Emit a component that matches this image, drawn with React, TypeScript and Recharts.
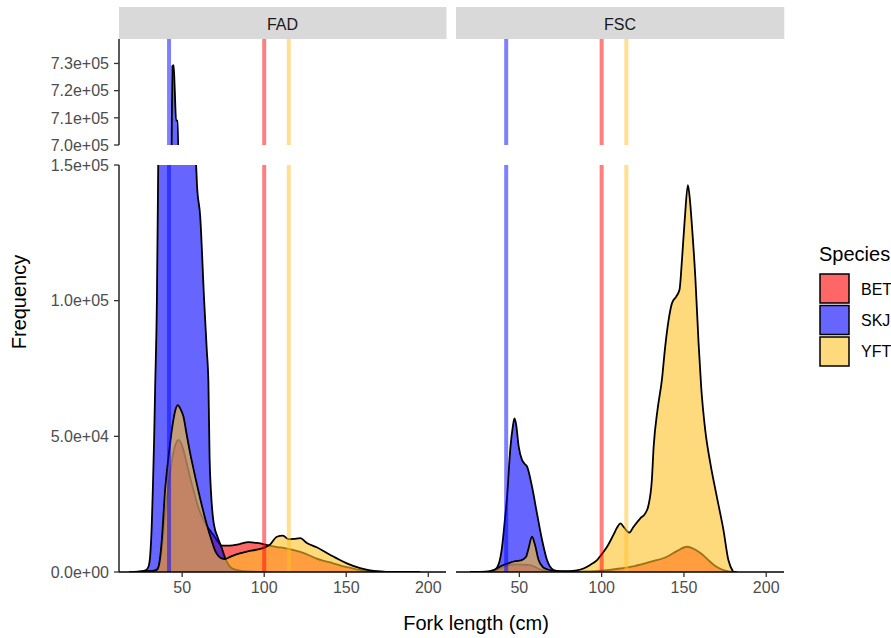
import React from "react";
import { ComposedChart, Area, XAxis, YAxis, ReferenceLine } from "recharts";

type Pt = [number, number];

const SPECIES = ["BET", "SKJ", "YFT"];
const FILLS: Record<string, string> = {
  BET: "#FF0000",
  SKJ: "#0000FF",
  YFT: "#FFC125",
};

// vertical reference lines (fork length, cm)
const REF_SPECIES = ["SKJ", "BET", "YFT"];
const REF_LENGTHS = [42, 100, 115];

const X_TICKS = [50, 100, 150, 200];
const LOW_TICKS = [0, 50000, 100000, 150000];
const HIGH_TICKS = [700000, 710000, 720000, 730000];

// [fork length cm, frequency]
const FAD_BET: Pt[] = [
  [18, 0], [25, 100], [30, 300], [33, 500], [35, 1200], [36.5, 4000], [37.6, 8500],
  [39.6, 21000], [41.7, 32000], [44.3, 43000], [46.5, 47800], [47.8, 48700], [50, 46500],
  [52, 42000], [55, 34500], [57, 30000], [60, 23500], [62, 20500], [65, 17000], [68, 14500],
  [70, 12800], [72, 11000], [74.2, 9700], [79, 9700], [85, 10300], [90.4, 11000],
  [95.5, 10700], [100, 10200], [104, 9600], [108, 9200], [112, 8900], [116, 8300],
  [122, 7400], [128, 6000], [132, 4900], [137, 4000], [142, 3200], [147, 2300],
  [152, 1600], [157, 900], [162, 500], [170, 150], [180, 30], [195, 0],
];

const FAD_SKJ: Pt[] = [
  [18, 0], [25, 200], [28, 700], [29.5, 2000], [30.5, 6000], [31.5, 17900], [32.1, 30200],
  [32.9, 48700], [33.5, 67100], [34.6, 100000], [35.4, 150000], [37, 250000], [39, 400000],
  [41, 550000], [43, 660000], [43.6, 700000], [44, 729000], [44.8, 729400], [45.5, 720000],
  [46.3, 709000], [47.3, 709000], [47.8, 690000], [49, 560000], [51, 400000], [53, 300000],
  [55, 230000], [57, 180000], [58.5, 150000], [59, 143000], [61, 131000], [63.4, 100000],
  [65, 81800], [66, 69700], [66.7, 42500], [67.5, 30200], [68.7, 20400], [70.1, 15500],
  [71.5, 13000], [74, 9000], [77, 4000], [80, 1500], [85, 500], [90, 200], [100, 0],
];

const FAD_YFT: Pt[] = [
  [18, 0], [25, 100], [30, 300], [33, 500], [35, 1000], [36.5, 5000], [37.6, 11800],
  [39.6, 30200], [41.7, 42500], [44.3, 54800], [46, 60000], [47.4, 61500], [49, 60000],
  [50.8, 57200], [52.8, 50500], [54.8, 44000], [56.9, 38000], [61, 27000], [65, 17500],
  [68, 11500], [70, 8000], [72, 6000], [74, 5000], [76, 4800], [79.3, 5600], [84, 6700],
  [89.4, 7500], [95, 8200], [99.6, 8900], [103.7, 10200], [107.7, 13000], [111.4, 13400],
  [114.8, 12100], [118, 12200], [122, 12500], [126, 10700], [132, 9100], [138.2, 7000],
  [145, 4800], [150.4, 3200], [158.5, 1400], [164.6, 550], [172, 150], [183, 0],
];

const FSC_BET: Pt[] = [
  [20, 0], [33, 100], [36, 600], [40, 1700], [44, 2600], [48, 2800], [52, 2700], [56, 2600],
  [59, 2000], [62, 1100], [66, 400], [72, 150], [80, 100], [90, 200], [100, 500],
  [110, 1200], [120, 2200], [130, 3800], [140, 5700], [146, 7800], [151.7, 9300],
  [155, 8800], [160, 7000], [165, 4300], [168, 2700], [172, 1200], [177, 250], [182, 0],
];

const FSC_SKJ: Pt[] = [
  [20, 0], [30, 0], [33, 100], [35, 600], [37.5, 3000], [39.5, 9300], [41, 18000],
  [42.5, 27700], [44.6, 46200], [46, 53500], [47, 56600], [48, 54500], [49.6, 46200],
  [51.6, 41300], [53, 40000], [54.7, 38800], [57.7, 31400], [60.7, 21600], [63.8, 11800],
  [66.8, 4400], [70.8, 700], [75, 150], [80, 0],
];

const FSC_YFT: Pt[] = [
  [20, 0], [30, 100], [35, 900], [40, 2500], [44, 3400], [47.5, 4000], [51, 4300],
  [54, 5500], [55.5, 8500], [57.7, 13000], [59.5, 10000], [61.7, 4400], [64, 2000],
  [66.8, 1000], [72, 350], [80, 300], [85, 600], [89, 1300], [93, 2600], [97.2, 4400],
  [100, 6500], [103.3, 9300], [107, 13500], [109.5, 16500], [111.5, 17900], [113.5, 16500],
  [116.8, 14500], [119.4, 16700], [123.5, 19800], [126.5, 21600], [128.5, 24700],
  [130.5, 33900], [131.6, 46200], [134, 60000], [136.6, 70800], [138.6, 83000],
  [140.7, 92900], [142.7, 99000], [145.3, 101500], [147.3, 104000], [148.8, 115000],
  [150.5, 130000], [152.4, 142600], [153.5, 138000], [154.9, 127300], [156.9, 108800],
  [158.9, 84300], [160.5, 68000], [163, 52000], [166, 40200], [170, 27700], [174, 15500],
  [177, 4400], [180, 0],
];

const X_DOMAIN = [11.5, 210.8];
const FONT = "'Liberation Sans', Arial, Helvetica, sans-serif";
const TICK_STYLE = { fill: "#4d4d4d", fontSize: 16, fontFamily: FONT };
const AXIS_LINE = { stroke: "#000", strokeWidth: 1.3 };
const TICK_LINE = { stroke: "#333", strokeWidth: 1.3 };
const PAD = 12; // room above/below the plot so edge tick labels are not clipped

function buildRows(series: Record<string, Pt[]>) {
  const map = new Map<number, Record<string, number>>();
  for (const [name, pts] of Object.entries(series)) {
    for (const [cm, v] of pts) {
      const row = map.get(cm) || { cm };
      row[name] = v;
      map.set(cm, row);
    }
  }
  return Array.from(map.values()).sort((a, b) => a.cm - b.cm);
}

function sci(v: number) {
  const [m, e] = v.toExponential(1).split("e");
  return `${m}e${e[0]}${e.slice(1).padStart(2, "0")}`;
}

const fadRows = buildRows({ BET: FAD_BET, SKJ: FAD_SKJ, YFT: FAD_YFT });
const fscRows = buildRows({ BET: FSC_BET, SKJ: FSC_SKJ, YFT: FSC_YFT });

interface PanelProps {
  rows: Record<string, number>[];
  left: number;
  top: number; // top of plot area
  width: number;
  plotHeight: number;
  domain: number[];
  ticks: number[];
  showY: boolean;
  showX: boolean;
}

function Panel({ rows, left, top, width, plotHeight, domain, ticks, showY, showX }: PanelProps) {
  const xH = showX ? 30 : 0;
  return (
    <div style={{ position: "absolute", left, top: top - PAD }}>
      <ComposedChart
        width={width}
        height={plotHeight + xH + PAD * 2}
        data={rows}
        margin={{ top: PAD, right: 0, bottom: PAD, left: 0 }}
      >
        <XAxis
          type="number"
          dataKey="cm"
          domain={X_DOMAIN}
          ticks={X_TICKS}
          interval={0}
          allowDataOverflow
          hide={!showX}
          height={30}
          tickSize={5}
          tickMargin={5}
          tick={TICK_STYLE}
          axisLine={AXIS_LINE}
          tickLine={TICK_LINE}
        />
        <YAxis
          type="number"
          domain={domain}
          ticks={ticks}
          interval={0}
          allowDataOverflow
          hide={!showY}
          width={119}
          tickSize={5}
          tickMargin={5}
          tickFormatter={sci}
          tick={TICK_STYLE}
          axisLine={AXIS_LINE}
          tickLine={TICK_LINE}
        />
        {SPECIES.map((s) => (
          <Area
            key={s}
            type="monotone"
            dataKey={s}
            connectNulls
            fill={FILLS[s]}
            fillOpacity={0.6}
            stroke="#000"
            strokeWidth={1.8}
            dot={false}
            activeDot={false}
            isAnimationActive={false}
          />
        ))}
        {REF_SPECIES.map((s, i) => (
          <ReferenceLine
            key={s}
            x={REF_LENGTHS[i]}
            stroke={FILLS[s]}
            strokeOpacity={0.5}
            strokeWidth={4}
          />
        ))}
      </ComposedChart>
    </div>
  );
}

export default function App() {
  return (
    <div
      style={{
        position: "absolute",
        left: 0,
        top: 0,
        width: 891,
        height: 638,
        background: "#fff",
        fontFamily: FONT,
      }}
    >
      <svg width={891} height={638} style={{ position: "absolute", left: 0, top: 0 }}>
        {/* facet strips */}
        <rect x={119} y={7} width={327.5} height={32} fill="#d9d9d9" />
        <rect x={456} y={7} width={328.3} height={32} fill="#d9d9d9" />
        <text x={282.5} y={29.5} textAnchor="middle" fontSize={16} fill="#1a1a1a">FAD</text>
        <text x={620} y={29.5} textAnchor="middle" fontSize={16} fill="#1a1a1a">FSC</text>

        {/* axis titles */}
        <text transform="translate(26, 302) rotate(-90)" textAnchor="middle" fontSize={20} fill="#000">
          Frequency
        </text>
        <text x={476} y={630} textAnchor="middle" fontSize={20} fill="#000">
          Fork length (cm)
        </text>

        {/* legend */}
        <text x={819} y={261} fontSize={20} fill="#000">Species</text>
        {SPECIES.map((s, i) => (
          <g key={s}>
            <rect
              x={820}
              y={274 + i * 31.5}
              width={29}
              height={29}
              fill={FILLS[s]}
              fillOpacity={0.6}
              stroke="#000"
              strokeWidth={1.5}
            />
            <text x={861} y={295 + i * 31} fontSize={16} fill="#000">{s}</text>
          </g>
        ))}
      </svg>

      {/* FAD: upper (broken axis) and lower */}
      <Panel rows={fadRows} left={0} top={39} width={446} plotHeight={106}
        domain={[700000, 739000]} ticks={HIGH_TICKS} showY showX={false} />
      <Panel rows={fadRows} left={0} top={165} width={446} plotHeight={407}
        domain={[0, 150000]} ticks={LOW_TICKS} showY showX />

      {/* FSC */}
      <Panel rows={fscRows} left={456} top={39} width={328} plotHeight={106}
        domain={[700000, 739000]} ticks={HIGH_TICKS} showY={false} showX={false} />
      <Panel rows={fscRows} left={456} top={165} width={328} plotHeight={407}
        domain={[0, 150000]} ticks={LOW_TICKS} showY={false} showX />
    </div>
  );
}
